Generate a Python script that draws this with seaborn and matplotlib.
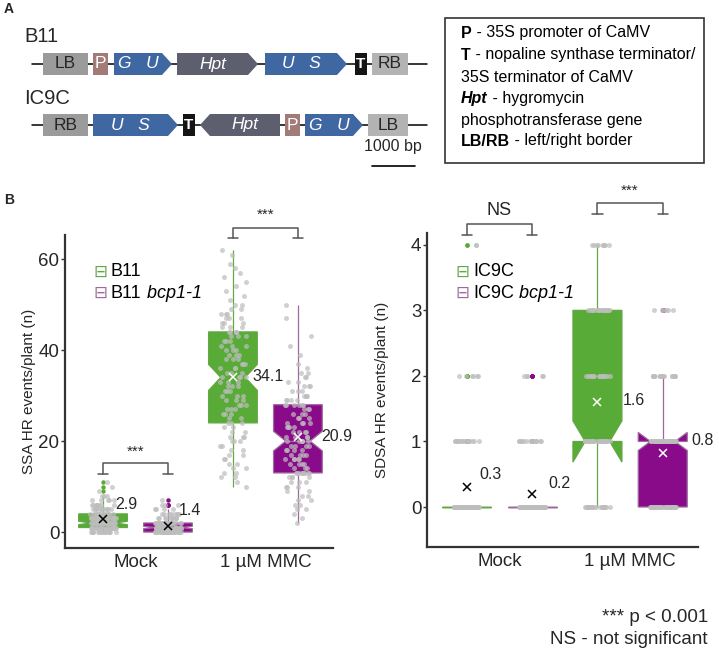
import numpy as np
import pandas as pd
import matplotlib
matplotlib.use("Agg")
import matplotlib.pyplot as plt
import seaborn as sns
from matplotlib.patches import Rectangle, Polygon

# ---- valores ----
slots = ["Mock_wt", "Mock_bcp", "MMC_wt", "MMC_bcp"]
tick_names = ["Mock", "1 µM MMC"]

# SSA (linha B11), eventos por planta
ssa_mock_wt_values = [0, 1, 2, 3, 4, 5, 6, 7, 8, 9, 10, 11]
ssa_mock_wt_counts = [15, 26, 35, 29, 15, 12, 8, 5, 3, 1, 1, 1]
ssa_mock_bcp_values = [0, 1, 2, 3, 4, 5, 6, 7]
ssa_mock_bcp_counts = [48, 45, 30, 11, 8, 4, 3, 1]
ssa_mmc_wt = [10, 11, 12, 12, 13, 13, 14, 14, 15, 15, 16, 16, 17, 17, 18, 18, 19, 19,
              20, 20, 20, 21, 21, 21, 22, 22, 23, 23, 24, 24,
              24, 25, 25, 26, 26, 26, 27, 27, 27, 28, 28, 28, 29, 29, 29, 30, 30, 30,
              31, 31, 31, 32, 32, 32, 33, 33, 33, 34, 34, 34,
              34, 35, 35, 35, 36, 36, 36, 37, 37, 37, 38, 38, 38, 39, 39, 39, 40, 40, 40,
              41, 41, 41, 42, 42, 42, 43, 43, 43, 44, 44,
              44, 44, 44, 45, 45, 45, 46, 46, 46, 47, 47, 47, 48, 48, 48, 49, 49, 50, 50,
              51, 52, 53, 54, 55, 56, 57, 58, 59, 61, 62]
ssa_mmc_bcp = [2, 3, 4, 5, 5, 6, 6, 7, 7, 8, 8, 9, 9, 10, 10, 10, 11, 11, 11,
               12, 12, 12, 12, 13, 13, 13, 13, 13, 13, 13,
               13, 13, 14, 14, 14, 15, 15, 15, 15, 16, 16, 16, 16, 16, 17, 17, 17, 17,
               18, 18, 18, 18, 19, 19, 19, 19, 20, 20, 20, 20,
               20, 20, 21, 21, 21, 21, 22, 22, 22, 22, 23, 23, 23, 23, 24, 24, 24, 24,
               25, 25, 25, 26, 26, 26, 27, 27, 27, 28, 28, 28,
               28, 28, 28, 29, 29, 29, 29, 30, 30, 30, 30, 31, 31, 31, 32, 32, 32, 33, 33,
               34, 34, 35, 35, 36, 37, 39, 41, 43, 47, 50]

# SDSA (linha IC9C), eventos por planta
sdsa_mock_wt_values = [0, 1, 2, 4]
sdsa_mock_wt_counts = [95, 17, 6, 2]
sdsa_mock_bcp_values = [0, 1, 2]
sdsa_mock_bcp_counts = [110, 15, 5]
sdsa_mmc_wt_values = [0, 1, 2, 3, 4]
sdsa_mmc_wt_counts = [21, 35, 16, 19, 9]
sdsa_mmc_bcp_values = [0, 1, 2, 3]
sdsa_mmc_bcp_counts = [52, 55, 17, 6]

# ---- estilo ----
W, H = 719, 654
GREEN, GREEN_LINE = "#58ab36", "#62a845"
PURPLE, PURPLE_LINE = "#8a0b8a", "#9c6a9c"
AXIS = "#333333"
DOT = "#bdbdbd"


def frame(groups):
    parts = [pd.DataFrame({"slot": s, "value": np.asarray(v, dtype=float)})
             for s, v in zip(slots, groups)]
    return pd.concat(parts, ignore_index=True)


ssa = frame([np.repeat(ssa_mock_wt_values, ssa_mock_wt_counts),
             np.repeat(ssa_mock_bcp_values, ssa_mock_bcp_counts),
             ssa_mmc_wt, ssa_mmc_bcp])
sdsa = frame([np.repeat(sdsa_mock_wt_values, sdsa_mock_wt_counts),
              np.repeat(sdsa_mock_bcp_values, sdsa_mock_bcp_counts),
              np.repeat(sdsa_mmc_wt_values, sdsa_mmc_wt_counts),
              np.repeat(sdsa_mmc_bcp_values, sdsa_mmc_bcp_counts)])

sns.set_style("ticks")
plt.rcParams["font.family"] = ["Liberation Sans", "DejaVu Sans"]

fig = plt.figure(figsize=(W / 100, H / 100), dpi=100)


def px_axes(x0, x1, ytop, ybot):
    return fig.add_axes([x0 / W, 1 - ybot / H, (x1 - x0) / W, (ybot - ytop) / H])


def panel(ax, df, ylabel, yticks, ylim, xlim, label_offsets, brackets, labelpad):
    for geno, fill, line in [("wt", GREEN, GREEN_LINE), ("bcp", PURPLE, PURPLE_LINE)]:
        sub = df[df["slot"].str.endswith(geno)]
        sns.boxplot(data=sub, x="slot", y="value", order=slots, color=fill,
                    saturation=1, linecolor=line, linewidth=0.9, width=0.75,
                    notch=True, showcaps=False,
                    flierprops=dict(marker="o", markersize=2.2,
                                    markerfacecolor=fill, markeredgecolor=fill),
                    ax=ax)
    sns.stripplot(data=df, x="slot", y="value", order=slots, color=DOT,
                  alpha=0.7, size=3.6, jitter=0.2, ax=ax, zorder=3)
    for treat, c in [("Mock", "black"), ("MMC", "white")]:
        sub = df[df["slot"].str.startswith(treat)]
        sns.pointplot(data=sub, x="slot", y="value", order=slots, color=c,
                      estimator="mean", errorbar=None, markers="x",
                      linestyles="none", markersize=6, markeredgewidth=1.1,
                      ax=ax, zorder=5)

    means = df.groupby("slot")["value"].mean().reindex(slots)
    for i, (m, off) in enumerate(zip(means, label_offsets)):
        ax.annotate(f"{m:.1f}", xy=(i, m), xytext=off, textcoords="offset pixels",
                    ha="left", va="center", fontsize=11.5, zorder=6)

    for x0, x1, ytop, ybot, ylab, txt, size in brackets:
        ax.plot([x0, x0, x1, x1], [ybot, ytop, ytop, ybot], color="#555555",
                lw=1.1, clip_on=False, zorder=6)
        for x in (x0, x1):
            ax.plot([x - 0.08, x + 0.08], [ybot, ybot], color="#555555",
                    lw=1.1, clip_on=False, zorder=6)
        ax.text((x0 + x1) / 2, ylab, txt, ha="center", va="center",
                fontsize=size, clip_on=False)

    ax.set_xlim(*xlim)
    ax.set_ylim(*ylim)
    ax.set_xticks([0.5, 2.5])
    ax.set_xticklabels(tick_names, fontsize=13.5)
    ax.set_yticks(yticks)
    ax.set_yticklabels([str(t) for t in yticks], fontsize=13.5)
    ax.tick_params(axis="x", length=0, pad=4)
    ax.tick_params(axis="y", length=3, width=1, color=AXIS, pad=1)
    ax.set_xlabel("")
    ax.set_ylabel(ylabel, fontsize=11, labelpad=labelpad)
    sns.despine(ax=ax)
    for s in ("left", "bottom"):
        ax.spines[s].set_color(AXIS)
        ax.spines[s].set_linewidth(1.6)
    ax.patch.set_alpha(0)


ax1 = px_axes(65, 333, 235, 548)
panel(ax1, ssa, "SSA HR events/plant (n)", [0, 20, 40, 60], (-3.5, 65.3), (-0.585, 3.54),
      [(12, 14), (11, 15), (20, 0), (23, 0)],
      [(0, 1, 15.2, 12.7, 17.6, "***", 11), (2, 3, 66.8, 64.6, 69.8, "***", 11)], 2)

ax2 = px_axes(427, 698, 233, 547)
panel(ax2, sdsa, "SDSA HR events/plant (n)", [0, 1, 2, 3, 4], (-0.61, 4.18), (-0.61, 3.54),
      [(13, 12), (16, 11), (25, 2), (29, 13)],
      [(0, 1, 4.32, 4.15, 4.52, "NS", 13), (2, 3, 4.64, 4.47, 4.82, "***", 11)], 16)

# ---- camada em pixels para o painel A e os textos soltos ----
ov = fig.add_axes([0, 0, 1, 1], zorder=10)
ov.set_xlim(0, W)
ov.set_ylim(H, 0)
ov.axis("off")


def rich(x, y, parts, size, color="black"):
    t = ov.text(x, y, parts[0][0], fontsize=size, color=color, va="center", ha="left",
                **parts[0][1])
    for s, style in parts[1:]:
        t = ov.annotate(s, xy=(1, 0.5), xycoords=t, va="center", ha="left",
                        fontsize=size, color=color, **style)
    return t


ov.text(4, 9, "A", fontsize=10, fontweight="bold", va="center")
ov.text(4, 200, "B", fontsize=10, fontweight="bold", va="center")

# construções
GRAY_D, GRAY_L, ROSE = "#9b9b9b", "#b3b3b3", "#a27b78"
BLUE, SLATE, BLACK = "#3f68a3", "#5d5f6e", "#151515"
row_b11 = [("LB", 43, 88, "box", GRAY_D), ("P", 93, 108, "box", ROSE),
           ("G   U", 114, 172, "right", BLUE), ("Hpt", 177, 258, "right", SLATE),
           ("U   S", 265, 347, "right", BLUE), ("T", 355, 367, "box", BLACK),
           ("RB", 372, 408, "box", GRAY_L)]
row_ic9c = [("RB", 43, 88, "box", GRAY_D), ("U   S", 93, 178, "right", BLUE),
            ("T", 183, 195, "box", BLACK), ("Hpt", 200, 280, "left", SLATE),
            ("P", 285, 300, "box", ROSE), ("G   U", 305, 363, "right", BLUE),
            ("LB", 368, 408, "box", GRAY_L)]


def construct(name, y_name, yc, row):
    ov.text(24, y_name, name, fontsize=14.5, va="center", ha="left")
    ov.plot([32, 427], [yc, yc], color="black", lw=1.1, zorder=1)
    h, tip = 11, 10
    for label, x0, x1, kind, col in row:
        if kind == "right":
            pts = [(x0, yc - h), (x1 - tip, yc - h), (x1, yc), (x1 - tip, yc + h), (x0, yc + h)]
            cx = (x0 + x1 - tip) / 2
        elif kind == "left":
            pts = [(x0 + tip, yc - h), (x1, yc - h), (x1, yc + h), (x0 + tip, yc + h), (x0, yc)]
            cx = (x0 + tip + x1) / 2
        else:
            pts = [(x0, yc - h), (x1, yc - h), (x1, yc + h), (x0, yc + h)]
            cx = (x0 + x1) / 2
        ov.add_patch(Polygon(pts, closed=True, facecolor=col, edgecolor="none", zorder=2))
        if label in ("LB", "RB"):
            ov.text(cx, yc, label, fontsize=12.5, ha="center", va="center", zorder=3)
        elif label == "T":
            ov.text(cx, yc, "T", fontsize=11, fontweight="bold", color="white",
                    ha="center", va="center", zorder=3)
        elif label == "P":
            ov.text(cx, yc, "P", fontsize=12.5, color="white", ha="center", va="center", zorder=3)
        else:
            ov.text(cx, yc, label, fontsize=12.5, color="white", style="italic",
                    ha="center", va="center", zorder=3)


construct("B11", 37, 64, row_b11)
construct("IC9C", 98, 125, row_ic9c)

ov.text(393, 146, "1000 bp", fontsize=11.5, ha="center", va="center")
ov.plot([372, 415], [166, 166], color="black", lw=1.2)

# caixa de legenda das construções
ov.add_patch(Rectangle((445, 18), 259, 145, facecolor="white", edgecolor="#333333", lw=1.2))
bold = {"fontweight": "bold"}
legend_rows = [
    (33, [("P", bold), (" - 35S promoter of CaMV", {})]),
    (55, [("T", bold), (" - nopaline synthase terminator/", {})]),
    (77, [("35S terminator of CaMV", {})]),
    (98, [("Hpt", {"fontweight": "bold", "style": "italic"}), (" - hygromycin", {})]),
    (120, [("phosphotransferase gene", {})]),
    (141, [("LB/RB", bold), (" - left/right border", {})]),
]
for y, parts in legend_rows:
    rich(461, y, parts, 11.5)

# legendas dos gráficos
for x_icon, entries in [(100, ["B11", "B11"]), (462, ["IC9C", "IC9C"])]:
    for (y, col, italic), name in zip([(272, GREEN_LINE, False), (293, PURPLE_LINE, True)], entries):
        ov.text(x_icon, y, "\u229f", fontsize=12, color=col, ha="center", va="center",
                family="DejaVu Sans")
        parts = [(name, {})] + ([(" bcp1-1", {"style": "italic"})] if italic else [])
        rich(x_icon + 11, y, parts, 13)

ov.text(708, 617, "*** p < 0.001", fontsize=13.5, ha="right", va="center")
ov.text(708, 640, "NS - not significant", fontsize=13.5, ha="right", va="center")

fig.savefig("out.png", dpi=100)
